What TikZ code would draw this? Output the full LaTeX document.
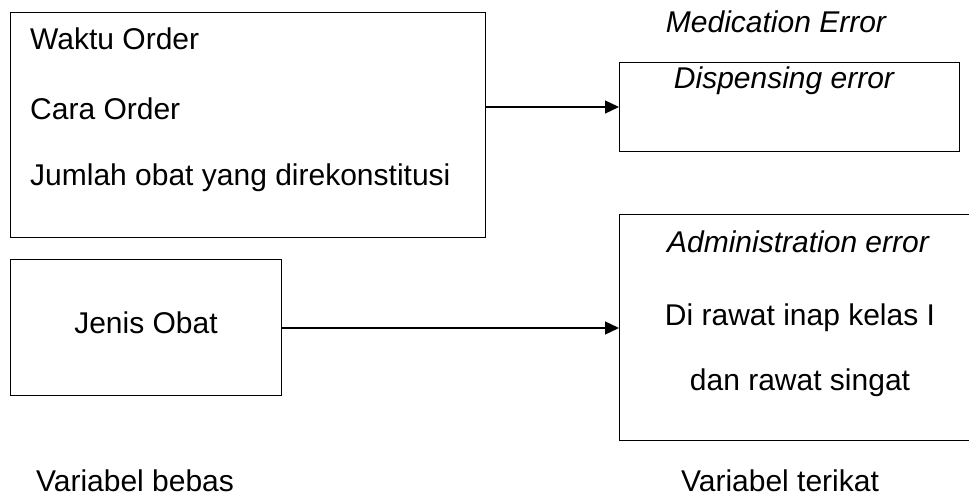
\documentclass[tikz,border=0pt]{standalone}
\usepackage{fontspec}
\setmainfont{Liberation Sans}
\usetikzlibrary{arrows.meta}
\begin{document}
\begin{tikzpicture}[x=1pt,y=-1pt,
  boxstyle/.style={draw=black,line width=1.3pt,inner sep=0pt,anchor=north west},
  txt/.style={inner sep=0pt,font=\fontsize{30}{36}\selectfont},
  conn/.style={line width=1.3pt,-{Triangle[length=14pt,width=13pt]}}]
\useasboundingbox (0,0) rectangle (969,497);
% boxes
\node[boxstyle,minimum width=475pt,minimum height=225pt] (b1) at (10,12) {};
\node[boxstyle,minimum width=340pt,minimum height=89pt] (b2) at (619,62) {};
\node[boxstyle,minimum width=360pt,minimum height=226pt] (b3) at (619,214) {};
\node[boxstyle,minimum width=271pt,minimum height=136pt] (b4) at (10,259) {};
% texts
\node[txt,anchor=base west] (t1) at (30,50) {Waktu Order};
\node[txt,anchor=base west] (t2) at (30,120) {Cara Order};
\node[txt,anchor=base west] (t3) at (30,186) {Jumlah obat yang direkonstitusi};
\node[txt,anchor=base] (t4) at (776,33) {\itshape Medication Error};
\node[txt,anchor=base] (t5) at (784,89) {\itshape Dispensing error};
\node[txt,anchor=base] (t6) at (798,252) {\itshape Administration error};
\node[txt,anchor=base] (t7) at (800,325) {Di rawat inap kelas I};
\node[txt,anchor=base] (t8) at (800,390) {dan rawat singat};
\node[txt,anchor=base] (t9) at (780,491) {Variabel terikat};
\node[txt,anchor=base] (t10) at (135,491) {Variabel bebas};
\node[txt,anchor=base] (t11) at (146,333) {Jenis Obat};
% connectors
\coordinate (a1) at (485,107);
\coordinate (a2) at (619,107);
\coordinate (c1) at (281,328);
\coordinate (c2) at (619,328);
\draw[conn] (a1) -- (a2);
\draw[conn] (c1) -- (c2);
\end{tikzpicture}
\end{document}
